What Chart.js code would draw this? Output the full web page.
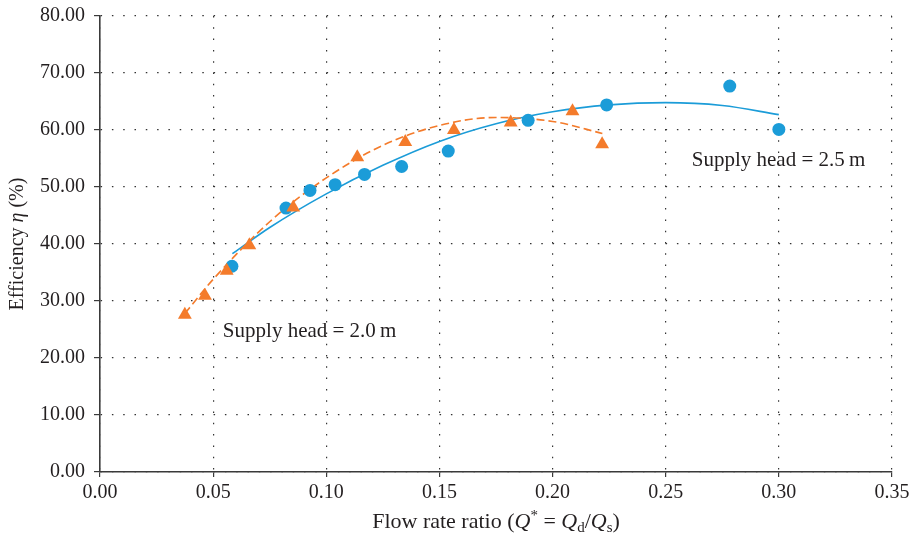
<!DOCTYPE html>
<html>
<head>
<meta charset="utf-8">
<script src="https://cdn.jsdelivr.net/npm/chart.js@4/dist/chart.umd.min.js"></script>
<style>
    html, body { margin: 0; padding: 0; background: #fff; }
    #wrap { width: 911px; height: 538px; }
</style>
</head>
<body>
<div id="wrap"><canvas id="efficiencyChart"></canvas></div>
<script>
// Measured points, supply head = 2.5 m
const head25X = [0.0583, 0.0822, 0.0928, 0.1039, 0.1169, 0.1333, 0.1539, 0.1892, 0.2239, 0.2783, 0.3000];
const head25Y = [36.1, 46.3, 49.4, 50.4, 52.2, 53.6, 56.3, 61.7, 64.4, 67.7, 60.1];

// Measured points, supply head = 2.0 m
const head20X = [0.0375, 0.0464, 0.0560, 0.0660, 0.0854, 0.1137, 0.1349, 0.1564, 0.1815, 0.2088, 0.2219];
const head20Y = [27.6, 30.9, 35.3, 39.8, 46.4, 55.2, 57.9, 60.0, 61.3, 63.3, 57.5];

// Trend curves
const trend25X = [0.0585, 0.075, 0.10, 0.125, 0.15, 0.175, 0.20, 0.225, 0.25, 0.275, 0.30];
const trend25Y = [38.3, 42.9, 48.8, 53.8, 58.0, 61.1, 63.2, 64.4, 64.8, 64.3, 62.7];
const trend20X = [0.0375, 0.05, 0.075, 0.10, 0.125, 0.15, 0.175, 0.20, 0.222];
const trend20Y = [27.8, 33.8, 43.9, 51.6, 57.3, 60.8, 62.2, 61.5, 59.4];

// Axis ticks
const xTicks = [0, 0.05, 0.10, 0.15, 0.20, 0.25, 0.30, 0.35];
const yTicks = [0, 10, 20, 30, 40, 50, 60, 70, 80];

const curveLabels = ['Supply head = 2.5\u2009m', 'Supply head = 2.0\u2009m'];

const BLUE = '#1b9cd8';
const ORANGE = '#f47b2b';
const INK = '#231f20';
const AXIS = '#3a3a3a';
const FONT = "'Liberation Serif', 'DejaVu Serif', serif";

function pairs(xs, ys) {
    return xs.map((x, i) => ({ x: x, y: ys[i] }));
}

// Draw a line of text made of styled runs, centred on (cx, cy)
function drawRuns(ctx, runs, cx, cy, size) {
    const fontFor = r => (r.italic ? 'italic ' : '') + Math.round(size * (r.small ? 0.68 : 1)) + 'px ' + FONT;
    let total = 0;
    runs.forEach(r => {
        ctx.font = fontFor(r);
        total += ctx.measureText(r.t).width;
    });
    let x = cx - total / 2;
    ctx.textBaseline = 'middle';
    ctx.textAlign = 'left';
    runs.forEach(r => {
        ctx.font = fontFor(r);
        ctx.fillText(r.t, x, cy + (r.shift || 0) * size);
        x += ctx.measureText(r.t).width;
    });
}

// Axis titles and curve labels
const textPlugin = {
    id: 'textPlugin',
    afterDraw(chart) {
        const ctx = chart.ctx;
        const xs = chart.scales.x;
        const ys = chart.scales.y;
        const area = chart.chartArea;
        ctx.save();
        ctx.fillStyle = INK;

        drawRuns(ctx, [
            { t: 'Flow rate ratio (' },
            { t: 'Q', italic: true },
            { t: '*', small: true, shift: -0.28 },
            { t: ' = ' },
            { t: 'Q', italic: true },
            { t: 'd', small: true, shift: 0.28 },
            { t: '/' },
            { t: 'Q', italic: true },
            { t: 's', small: true, shift: 0.28 },
            { t: ')' }
        ], (area.left + area.right) / 2, 522, 21.5);

        ctx.save();
        ctx.translate(18, (area.top + area.bottom) / 2);
        ctx.rotate(-Math.PI / 2);
        drawRuns(ctx, [
            { t: 'Efficiency ' },
            { t: '\u03b7', italic: true },
            { t: ' (%)' }
        ], 0, 0, 19.5);
        ctx.restore();

        ctx.font = '21px ' + FONT;
        ctx.textAlign = 'left';
        ctx.textBaseline = 'middle';
        ctx.fillText(curveLabels[0], xs.getPixelForValue(0.2615), ys.getPixelForValue(54.7));
        ctx.fillText(curveLabels[1], xs.getPixelForValue(0.0543), ys.getPixelForValue(24.6));
        ctx.restore();
    }
};

// Let the layout padding alone decide where the plot area sits
function clearScalePadding(scale) {
    scale.paddingTop = 0;
    scale.paddingBottom = 0;
    scale.paddingLeft = 0;
    scale.paddingRight = 0;
}

Chart.defaults.font.family = FONT;
Chart.defaults.color = INK;

new Chart(document.getElementById('efficiencyChart'), {
    type: 'scatter',
    data: {
        datasets: [
            {
                label: 'Supply head = 2.0 m',
                data: pairs(head20X, head20Y),
                pointStyle: 'triangle',
                pointRadius: 8,
                backgroundColor: ORANGE,
                borderColor: ORANGE,
                borderWidth: 0
            },
            {
                label: 'Supply head = 2.5 m',
                data: pairs(head25X, head25Y),
                pointStyle: 'circle',
                pointRadius: 6.5,
                backgroundColor: BLUE,
                borderColor: BLUE,
                borderWidth: 0
            },
            {
                label: 'Trend 2.0 m',
                data: pairs(trend20X, trend20Y),
                showLine: true,
                pointRadius: 0,
                borderColor: ORANGE,
                borderWidth: 1.6,
                borderDash: [8, 4],
                cubicInterpolationMode: 'monotone',
                fill: false
            },
            {
                label: 'Trend 2.5 m',
                data: pairs(trend25X, trend25Y),
                showLine: true,
                pointRadius: 0,
                borderColor: BLUE,
                borderWidth: 1.6,
                cubicInterpolationMode: 'monotone',
                fill: false
            }
        ]
    },
    options: {
        responsive: true,
        maintainAspectRatio: false,
        animation: false,
        layout: {
            padding: { top: 16, right: 19, bottom: 0, left: 0 }
        },
        plugins: {
            legend: { display: false },
            tooltip: { enabled: false }
        },
        scales: {
            x: {
                type: 'linear',
                min: 0,
                max: 0.35,
                afterBuildTicks: scale => { scale.ticks = xTicks.map(v => ({ value: v })); },
                afterFit: scale => { scale.height = 66; clearScalePadding(scale); },
                ticks: {
                    callback: v => v.toFixed(2),
                    font: { size: 20 },
                    color: INK,
                    padding: 4,
                    maxRotation: 0
                },
                grid: {
                    color: '#333',
                    lineWidth: 1.2,
                    tickLength: 5,
                    tickColor: AXIS
                },
                border: {
                    display: true,
                    color: AXIS,
                    width: 1.6,
                    dash: [1.5, 9.8]
                }
            },
            y: {
                type: 'linear',
                min: 0,
                max: 80,
                afterBuildTicks: scale => { scale.ticks = yTicks.map(v => ({ value: v })); },
                afterFit: scale => { scale.width = 100; clearScalePadding(scale); },
                ticks: {
                    callback: v => v.toFixed(2),
                    font: { size: 20 },
                    color: INK,
                    padding: 9
                },
                grid: {
                    color: '#333',
                    lineWidth: 1.2,
                    tickLength: 6,
                    tickColor: AXIS
                },
                border: {
                    display: true,
                    color: AXIS,
                    width: 1.6,
                    dash: [1.5, 9.8]
                }
            }
        }
    },
    plugins: [textPlugin]
});
</script>
</body>
</html>
